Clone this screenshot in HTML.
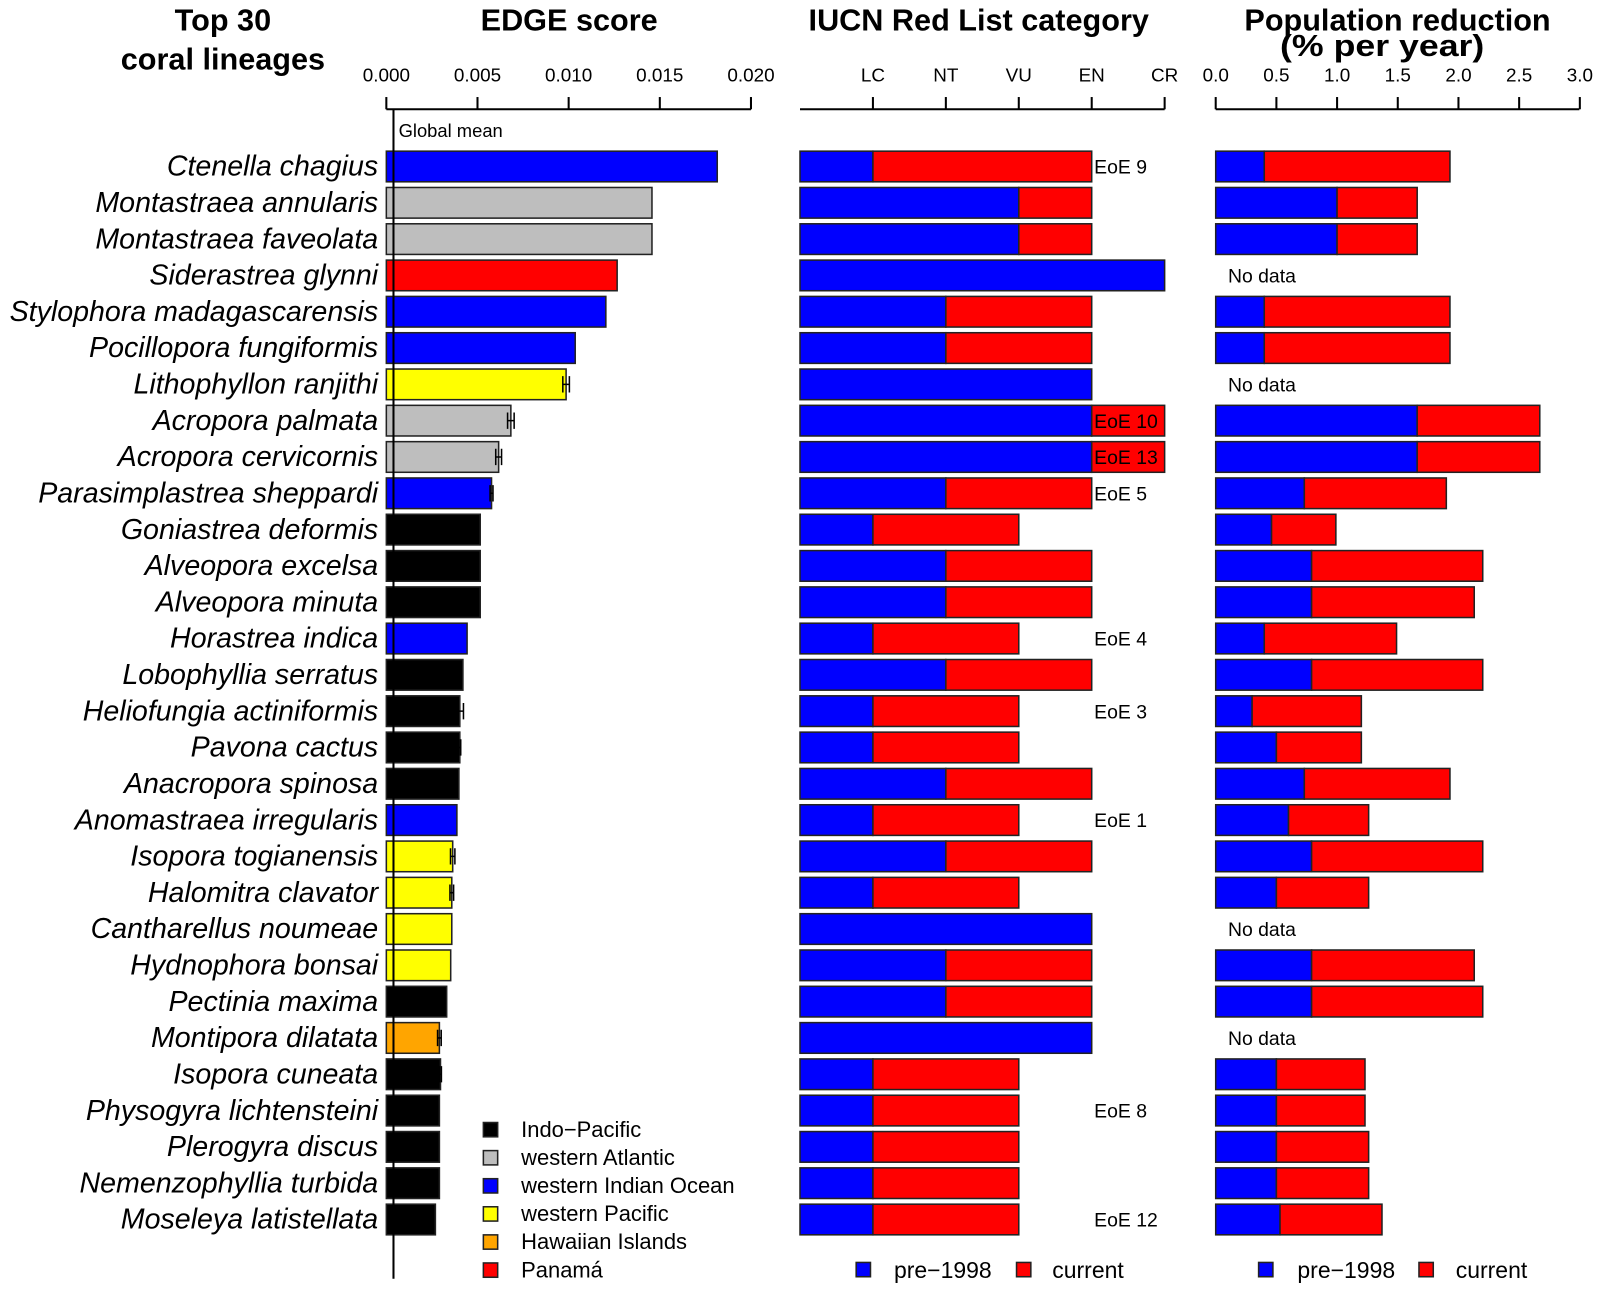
<!DOCTYPE html>
<html><head><meta charset="utf-8"><style>
html,body{margin:0;padding:0;background:#fff;}
svg{display:block;font-family:"Liberation Sans",Arial,sans-serif;}
</style></head><body>
<svg id="chart" width="1600" height="1289" viewBox="0 0 1566 1262" xmlns="http://www.w3.org/2000/svg">
<g id="titles" font-weight="bold" font-size="30" text-anchor="middle">
<text x="218" y="30">Top 30</text>
<text x="218" y="68">coral lineages</text>
<text x="557" y="30">EDGE score</text>
<text x="958" y="30">IUCN Red List category</text>
<text x="1368" y="30">Population reduction</text>
<text x="1353" y="55" textLength="200" lengthAdjust="spacingAndGlyphs">(% per year)</text>
</g>
<g id="plot"></g>
</svg>
<script>
const species=["Ctenella chagius","Montastraea annularis","Montastraea faveolata","Siderastrea glynni","Stylophora madagascarensis","Pocillopora fungiformis","Lithophyllon ranjithi","Acropora palmata","Acropora cervicornis","Parasimplastrea sheppardi","Goniastrea deformis","Alveopora excelsa","Alveopora minuta","Horastrea indica","Lobophyllia serratus","Heliofungia actiniformis","Pavona cactus","Anacropora spinosa","Anomastraea irregularis","Isopora togianensis","Halomitra clavator","Cantharellus noumeae","Hydnophora bonsai","Pectinia maxima","Montipora dilatata","Isopora cuneata","Physogyra lichtensteini","Plerogyra discus","Nemenzophyllia turbida","Moseleya latistellata"];
const edge=[0.01815,0.01457,0.01457,0.01266,0.01204,0.01036,0.00986,0.00683,0.00616,0.00577,0.00515,0.00515,0.00515,0.00443,0.0042,0.00403,0.00403,0.00398,0.00387,0.00364,0.00359,0.00359,0.00353,0.00331,0.00291,0.00297,0.00291,0.00291,0.00291,0.00269];
const edgeErr=[0,0,0,0,0,0,0.00018,0.00018,0.00016,0.00008,0,0,0,0,0,0.0002,0.00005,0,0,0.00012,0.0001,0,0,0,0.0001,0.00005,0,0,0,0];
const region=["wio","wa","wa","pan","wio","wio","wp","wa","wa","wio","ip","ip","ip","wio","ip","ip","ip","ip","wio","wp","wp","wp","wp","ip","hi","ip","ip","ip","ip","ip"];
const iucnPre=[1,3,3,5,2,2,4,4,4,2,1,2,2,1,2,1,1,2,1,2,1,4,2,2,4,1,1,1,1,1];
const iucnCur=[4,4,4,5,4,4,4,5,5,4,3,4,4,3,4,3,3,4,3,4,3,4,4,4,4,3,3,3,3,3];
const eoe=["EoE 9","","","","","","","EoE 10","EoE 13","EoE 5","","","","EoE 4","","EoE 3","","","EoE 1","","","","","","","","EoE 8","","","EoE 12"];
const popPre=[0.40,1.0,1.0,null,0.40,0.40,null,1.66,1.66,0.73,0.46,0.79,0.79,0.40,0.79,0.30,0.50,0.73,0.60,0.79,0.50,null,0.79,0.79,null,0.50,0.50,0.50,0.50,0.53];
const popCur=[1.93,1.66,1.66,null,1.93,1.93,null,2.67,2.67,1.90,0.99,2.20,2.13,1.49,2.20,1.20,1.20,1.93,1.26,2.20,1.26,null,2.13,2.20,null,1.23,1.23,1.26,1.26,1.37];
const edgeTicks=["0.000","0.005","0.010","0.015","0.020"];
const iucnTicks=["LC","NT","VU","EN","CR"];
const popTicks=["0.0","0.5","1.0","1.5","2.0","2.5","3.0"];
const regionKeys=["ip","wa","wio","wp","hi","pan"];
const regionLabels=["Indo\u2212Pacific","western Atlantic","western Indian Ocean","western Pacific","Hawaiian Islands","Panamá"];
const regionColors={ip:"#000000",wa:"#bebebe",wio:"#0000ff",wp:"#ffff00",hi:"#ffa500",pan:"#ff0000"};

const NS="http://www.w3.org/2000/svg";
const plot=document.getElementById('plot');
function mk(tag,attrs,parent,txt){const e=document.createElementNS(NS,tag);for(const k in attrs)e.setAttribute(k,attrs[k]);if(txt!==undefined)e.textContent=txt;(parent||plot).appendChild(e);return e;}
const yRow=i=>163+i*35.55;
const BH=30;
const xEdge=v=>378+v/0.02*357;
const xIucn=v=>783+v*71.4;
const xPop=v=>1190+v/3*356.5;
const AXY=107;

function axis(x0,x1,ticks,xf,vals,name){
  const g=mk('g',{});
  
  
  const l=mk('line',{x1:x0,x2:x1,y1:AXY,y2:AXY,stroke:'#000','stroke-width':2},g);
  
  
  ticks.forEach((t,i)=>{
    const x=xf(vals[i]);
    const tk=mk('line',{x1:x,x2:x,y1:AXY,y2:AXY-12,stroke:'#000','stroke-width':2},g);
    
    
    const tl=mk('text',{x:x,y:80,'font-size':18.5,'text-anchor':'middle'},g,t);
    
    
  });
}
axis(378,735,edgeTicks,xEdge,edgeTicks.map(Number),'edge-axis');
axis(783,1140,iucnTicks,xIucn,[1,2,3,4,5],'iucn-axis');
axis(1190,1546,popTicks,xPop,popTicks.map(Number),'pop-axis');

species.forEach((s,i)=>{
  const y=yRow(i);
  const lab=mk('text',{x:370,y:y+9,'font-size':28,'font-style':'italic','text-anchor':'end'},plot,s);
  
  
  const b=mk('rect',{x:xEdge(0),y:y-BH/2,width:xEdge(edge[i])-xEdge(0),height:BH,fill:regionColors[region[i]],stroke:'#222','stroke-width':1.5});
  
  
  if(edgeErr[i]>0){
    const xa=xEdge(edge[i]-edgeErr[i]),xb=xEdge(edge[i]+edgeErr[i]);
    const eb=mk('path',{d:`M${xa},${y}H${xb}M${xa},${y-8}V${y+8}M${xb},${y-8}V${y+8}`,stroke:'#000','stroke-width':1.5,fill:'none'});
    
    
  }
  const ip=mk('rect',{x:xIucn(0),y:y-BH/2,width:xIucn(iucnPre[i])-xIucn(0),height:BH,fill:'#0000ff',stroke:'#222','stroke-width':1.5});
  
  
  if(iucnCur[i]>iucnPre[i]){
    const ic=mk('rect',{x:xIucn(iucnPre[i]),y:y-BH/2,width:xIucn(iucnCur[i])-xIucn(iucnPre[i]),height:BH,fill:'#ff0000',stroke:'#222','stroke-width':1.5});
    
    
  }
  if(eoe[i]){
    const et=mk('text',{x:1071,y:y+7,'font-size':19},plot,eoe[i]);
    
    
  }
  if(popPre[i]===null){
    const nd=mk('text',{x:1202,y:y+7,'font-size':19},plot,'No data');
    
    
  } else {
    const pp=mk('rect',{x:xPop(0),y:y-BH/2,width:xPop(popPre[i])-xPop(0),height:BH,fill:'#0000ff',stroke:'#222','stroke-width':1.5});
    
    
    const pc=mk('rect',{x:xPop(popPre[i]),y:y-BH/2,width:xPop(popCur[i])-xPop(popPre[i]),height:BH,fill:'#ff0000',stroke:'#222','stroke-width':1.5});
    
    
  }
});
const gm=mk('line',{x1:385,x2:385,y1:AXY,y2:1252,stroke:'#000','stroke-width':2});


const gmt=mk('text',{x:390,y:134,'font-size':18},plot,'Global mean');


regionKeys.forEach((k,i)=>{
  const y=1106+i*27.5;
  const sq=mk('rect',{x:473,y:y-7,width:14,height:14,fill:regionColors[k],stroke:'#222','stroke-width':1.5});
  
  
  const t=mk('text',{x:510,y:y+7,'font-size':21.5},plot,regionLabels[i]);
  
  
});
[[838,875,995,1030],[1232,1270,1389,1425]].forEach(p=>{
  const y=1243;
  const a=mk('rect',{x:p[0],y:y-7,width:14,height:14,fill:'#0000ff',stroke:'#222','stroke-width':1.5});
  
  
  const at=mk('text',{x:p[1],y:y+8,'font-size':22.5},plot,'pre\u22121998');
  
  
  const b=mk('rect',{x:p[2],y:y-7,width:14,height:14,fill:'#ff0000',stroke:'#222','stroke-width':1.5});
  
  
  const bt=mk('text',{x:p[3],y:y+8,'font-size':22.5},plot,'current');
  
  
});
</script>
</body></html>
